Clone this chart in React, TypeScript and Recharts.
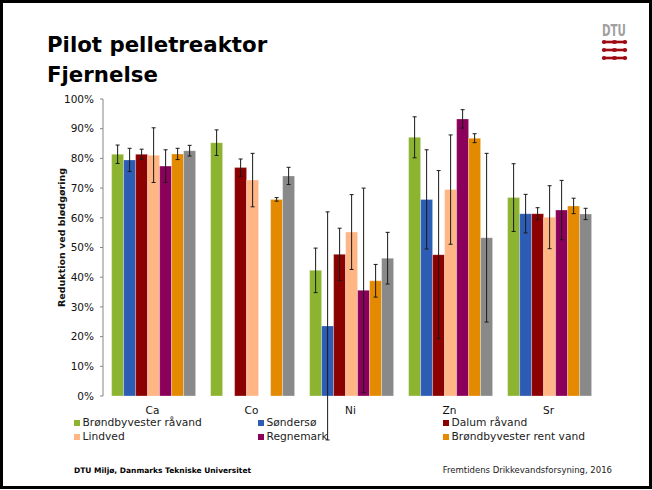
import React from 'react';
import { BarChart, Bar, XAxis, YAxis, ErrorBar } from 'recharts';

const CATEGORIES = ['Ca', 'Co', 'Ni', 'Zn', 'Sr'];
const Y_TICKS = [0, 10, 20, 30, 40, 50, 60, 70, 80, 90, 100];
const BOUNDARY_TICKS = [0, 1, 2, 3, 4, 5];

const SERIES_NAMES = [
  'Brøndbyvester råvand',
  'Søndersø',
  'Dalum råvand',
  'Lindved',
  'Regnemark',
  'Brøndbyvester rent vand',
  '',
];
const SERIES_COLORS = ['#8cb431', '#2c5cb4', '#8b0000', '#ffb684', '#8b005a', '#e38a00', '#898989'];

// values in %, null = no measurement
const BRONDBY_RAW = [81.4, 85.3, 42.3, 87.1, 66.8];
const BRONDBY_RAW_ERR = [3.1, 4.3, 7.5, 6.9, 11.4];
const SONDERSO = [79.5, null, 23.6, 66.2, 61.4];
const SONDERSO_ERR = [3.9, null, 38.4, 16.7, 6.5];
const DALUM_RAW = [81.4, 76.9, 47.7, 47.6, 61.4];
const DALUM_RAW_ERR = [1.7, 2.9, 8.8, 28.3, 2.0];
const LINDVED = [81.1, 72.7, 55.2, 69.5, 60.2];
const LINDVED_ERR = [9.2, 9.0, 12.6, 18.4, 10.6];
const REGNEMARK = [77.4, null, 35.6, 93.3, 62.6];
const REGNEMARK_ERR = [5.5, null, 34.4, 3.1, 10.0];
const BRONDBY_CLEAN = [81.5, 66.2, 38.8, 86.8, 64.0];
const BRONDBY_CLEAN_ERR = [1.9, 0.6, 5.5, 1.5, 2.6];
const GRAY_SERIES = [82.6, 74.1, 46.4, 53.3, 61.3];
const GRAY_SERIES_ERR = [1.8, 2.9, 8.7, 28.4, 1.9];

const SERIES_VALUES = [BRONDBY_RAW, SONDERSO, DALUM_RAW, LINDVED, REGNEMARK, BRONDBY_CLEAN, GRAY_SERIES];
const SERIES_ERRORS = [
  BRONDBY_RAW_ERR,
  SONDERSO_ERR,
  DALUM_RAW_ERR,
  LINDVED_ERR,
  REGNEMARK_ERR,
  BRONDBY_CLEAN_ERR,
  GRAY_SERIES_ERR,
];

const chartData = CATEGORIES.map((cat, ci) => {
  const row: Record<string, string | number | null> = { name: cat };
  SERIES_VALUES.forEach((vals, si) => {
    row[`s${si}`] = vals[ci];
    row[`e${si}`] = SERIES_ERRORS[si][ci];
  });
  return row;
});

const LEGEND_COLS = [74, 258, 443];
const LEGEND_ROWS = [423, 437];

function YLabel(props: any) {
  const vb = props.viewBox || { x: 43, y: 99, width: 60, height: 297 };
  const x = vb.x + 22;
  const y = vb.y + vb.height / 2 - 10;
  return (
    <text
      x={x}
      y={y}
      transform={`rotate(-90, ${x}, ${y})`}
      textAnchor="middle"
      fontSize={9.5}
      fontWeight="bold"
      fill="#111"
    >
      Reduktion ved blødgøring
    </text>
  );
}

export default function App() {
  return (
    <div
      style={{
        position: 'absolute',
        left: 0,
        top: 0,
        width: 652,
        height: 490,
        background: '#fff',
        fontFamily: '"DejaVu Sans", Verdana, sans-serif',
      }}
    >
      <svg width={652} height={490} style={{ position: 'absolute', left: 0, top: 0 }}>
        <rect x={1.5} y={1.5} width={649} height={486} fill="none" stroke="#000" strokeWidth={3} />
        <text x={47} y={51.7} fontSize={21.3} fontWeight="bold" fill="#000">
          Pilot pelletreaktor
        </text>
        <text x={47} y={81.7} fontSize={21.3} fontWeight="bold" fill="#000">
          Fjernelse
        </text>
        {/* DTU logo */}
        <text
          x={602}
          y={36}
          fontSize={16}
          fontWeight="bold"
          fill="#a0a0a0"
          fontFamily='"DejaVu Sans Condensed", "DejaVu Sans", sans-serif'
          textLength={24}
          lengthAdjust="spacingAndGlyphs"
        >
          DTU
        </text>
        {[42, 50, 58].map((y) => (
          <g key={y} fill="#9e0a14">
            <rect x={603} y={y - 1.3} width={23} height={2.6} />
            <ellipse cx={604} cy={y} rx={2.2} ry={1.9} />
            <ellipse cx={614.5} cy={y} rx={2.6} ry={1.9} />
            <ellipse cx={625} cy={y} rx={2.2} ry={1.9} />
          </g>
        ))}
        <text x={74} y={473} fontSize={7.5} fontWeight="bold" fill="#000">
          DTU Miljø, Danmarks Tekniske Universitet
        </text>
        <text x={612} y={473} fontSize={8.5} textAnchor="end" fill="#222">
          Fremtidens Drikkevandsforsyning, 2016
        </text>
      </svg>

      <div style={{ position: 'absolute', left: 0, top: 0 }}>
        <BarChart
          width={652}
          height={490}
          data={chartData}
          margin={{ top: 99, right: 54, bottom: 74, left: 43 }}
          barCategoryGap="8.7%"
          barGap={0}
        >
          <XAxis
            xAxisId="bounds"
            type="number"
            domain={[0, 5]}
            ticks={BOUNDARY_TICKS}
            height={0}
            tickSize={4}
            tickFormatter={() => ''}
            axisLine={{ stroke: '#868686' }}
            tickLine={{ stroke: '#868686' }}
          />
          <XAxis
            dataKey="name"
            height={20}
            axisLine={false}
            tickLine={false}
            tickSize={0}
            tickMargin={11}
            tick={{ fontSize: 10.5, fill: '#111' }}
          />
          <YAxis
            width={60}
            domain={[0, 100]}
            allowDataOverflow
            ticks={Y_TICKS}
            tickFormatter={(v) => `${v}%`}
            tickSize={3}
            tickMargin={6}
            axisLine={{ stroke: '#868686' }}
            tickLine={{ stroke: '#868686' }}
            tick={{ fontSize: 10.5, fill: '#111' }}
            label={<YLabel />}
          />
          {SERIES_VALUES.map((_, si) => (
            <Bar
              key={si}
              dataKey={`s${si}`}
              name={SERIES_NAMES[si]}
              fill={SERIES_COLORS[si]}
              stroke="#ffffff"
              strokeOpacity={0.3}
              strokeWidth={1}
              isAnimationActive={false}
            >
              <ErrorBar dataKey={`e${si}`} width={2} stroke="#1a1a1a" strokeWidth={1} direction="y" />
            </Bar>
          ))}
        </BarChart>
      </div>

      {SERIES_NAMES.slice(0, 6).map((name, i) => {
        const left = LEGEND_COLS[i % 3];
        const cy = LEGEND_ROWS[Math.floor(i / 3)];
        return (
          <div key={name} style={{ position: 'absolute', left, top: cy - 7, height: 14, whiteSpace: 'nowrap' }}>
            <span
              style={{
                position: 'absolute',
                left: 0,
                top: 4,
                width: 6,
                height: 6,
                background: SERIES_COLORS[i],
              }}
            />
            <span
              style={{
                position: 'absolute',
                left: 8.5,
                top: 0,
                fontSize: 10.7,
                lineHeight: '14px',
                color: '#222',
              }}
            >
              {name}
            </span>
          </div>
        );
      })}
    </div>
  );
}
